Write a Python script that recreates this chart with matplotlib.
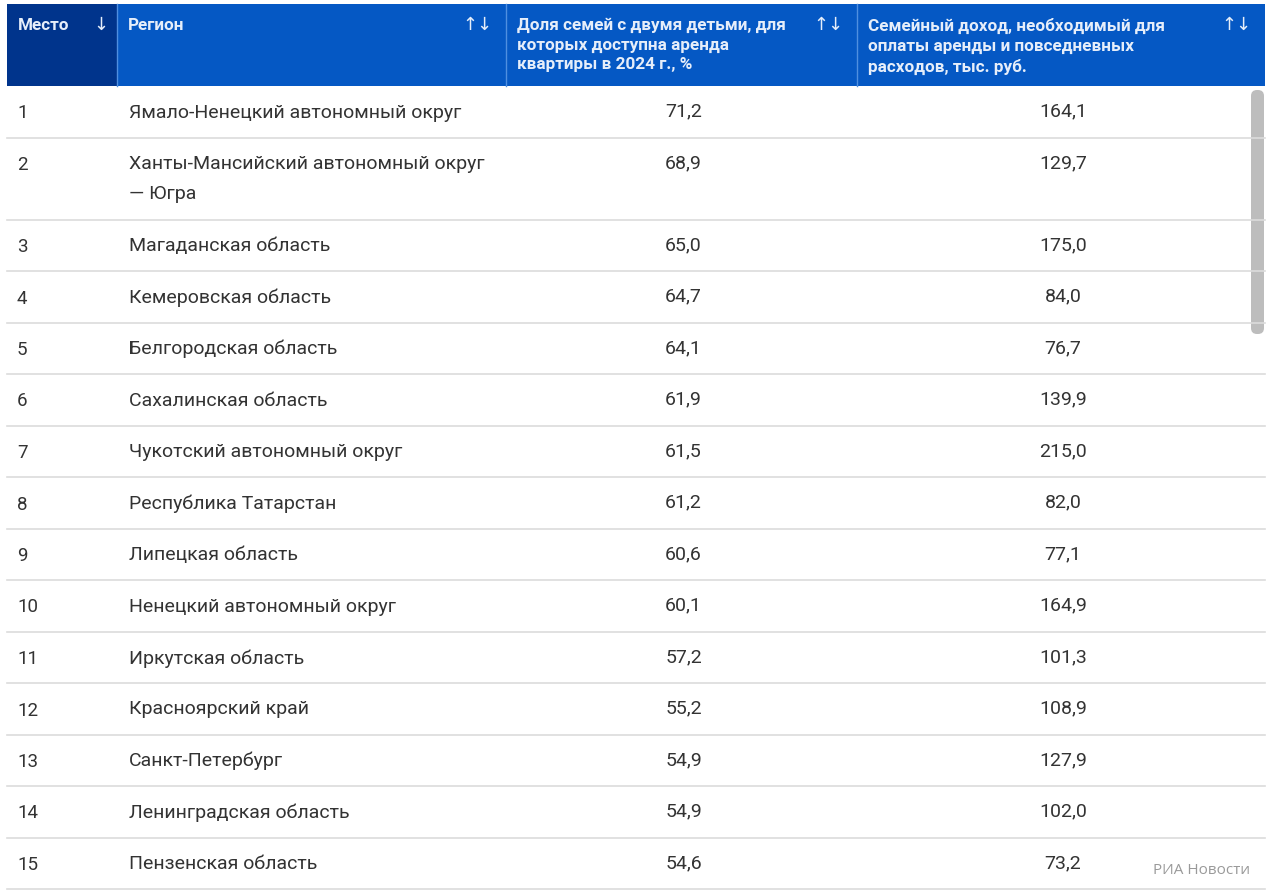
import matplotlib.pyplot as plt
from matplotlib.patches import Rectangle, FancyBboxPatch

places = list(range(1, 16))
regions = [
    "Ямало-Ненецкий автономный округ",
    "Ханты-Мансийский автономный округ\n— Югра",
    "Магаданская область",
    "Кемеровская область",
    "Белгородская область",
    "Сахалинская область",
    "Чукотский автономный округ",
    "Республика Татарстан",
    "Липецкая область",
    "Ненецкий автономный округ",
    "Иркутская область",
    "Красноярский край",
    "Санкт-Петербург",
    "Ленинградская область",
    "Пензенская область",
]
share = [71.2, 68.9, 65.0, 64.7, 64.1, 61.9, 61.5, 61.2, 60.6, 60.1,
         57.2, 55.2, 54.9, 54.9, 54.6]
income = [164.1, 129.7, 175.0, 84.0, 76.7, 139.9, 215.0, 82.0, 77.1, 164.9,
          101.3, 108.9, 127.9, 102.0, 73.2]
headers = [
    "Место",
    "Регион",
    "Доля семей с двумя детьми, для\nкоторых доступна аренда\nквартиры в 2024 г., %",
    "Семейный доход, необходимый для\nоплаты аренды и повседневных\nрасходов, тыс. руб.",
]
arrows = ["↓", "↑↓", "↑↓", "↑↓"]

FONT = ["Roboto", "DejaVu Sans"]
W, H = 1280, 894
col_x = [7, 117, 506, 857, 1265]
head_top, head_bot = 4, 86

fig = plt.figure(figsize=(W / 100, H / 100), dpi=100)
ax = fig.add_axes([0, 0, 1, 1])
ax.set_xlim(0, W)
ax.set_ylim(H, 0)
ax.axis("off")

# header
for i in range(4):
    color = "#00348C" if i == 0 else "#0558C4"
    ax.add_patch(Rectangle((col_x[i], head_top), col_x[i + 1] - col_x[i],
                           head_bot - head_top, facecolor=color, edgecolor="none"))
    if i > 0:
        ax.plot([col_x[i], col_x[i]], [head_top, head_bot], color="#4F8FE0", lw=1)
    ax.text(col_x[i] + 11, 18, headers[i], color="#E6EEFA", fontsize=12.3,
            fontweight="bold", family=FONT, va="top", ha="left", linespacing=1.38)
    ax_x = col_x[i] + 94 if i == 0 else col_x[i + 1] - 13
    ax.text(ax_x, 16, arrows[i], color="#E6EEFA", fontsize=13, family=FONT,
            va="top", ha="right" if i > 0 else "center")

# rows
row_h = [51.5 if "\n" not in r else 82 for r in regions]
y = head_bot
for i in range(len(regions)):
    h = row_h[i]
    ty = y + 25.5
    ax.text(17, ty + 2, str(places[i]), fontsize=13.5, color="#333333", family=FONT,
            va="center", ha="left")
    ax.text(129, ty - 8, regions[i], fontsize=14, color="#333333", family=FONT,
            va="top", ha="left", linespacing=1.85)
    ax.text((col_x[2] + col_x[3]) / 2 + 2, ty, f"{share[i]:.1f}".replace(".", ","),
            fontsize=14, color="#333333", family=FONT, va="center", ha="center")
    ax.text((col_x[3] + col_x[4]) / 2 + 2, ty, f"{income[i]:.1f}".replace(".", ","),
            fontsize=14, color="#333333", family=FONT, va="center", ha="center")
    y += h
    ax.plot([col_x[0], col_x[4]], [y, y], color="#DCDCDC", lw=1.2)

# scrollbar
ax.add_patch(FancyBboxPatch((1251, 90), 13, 244, boxstyle="round,pad=0,rounding_size=6",
                            facecolor="#BDBDBD", edgecolor="none"))

ax.text(1250, 870, "РИА Новости", fontsize=11, color="#9A9A9A",
        family=["Open Sans", "DejaVu Sans"], va="center", ha="right")

fig.savefig("out.png", dpi=100, facecolor="white")
